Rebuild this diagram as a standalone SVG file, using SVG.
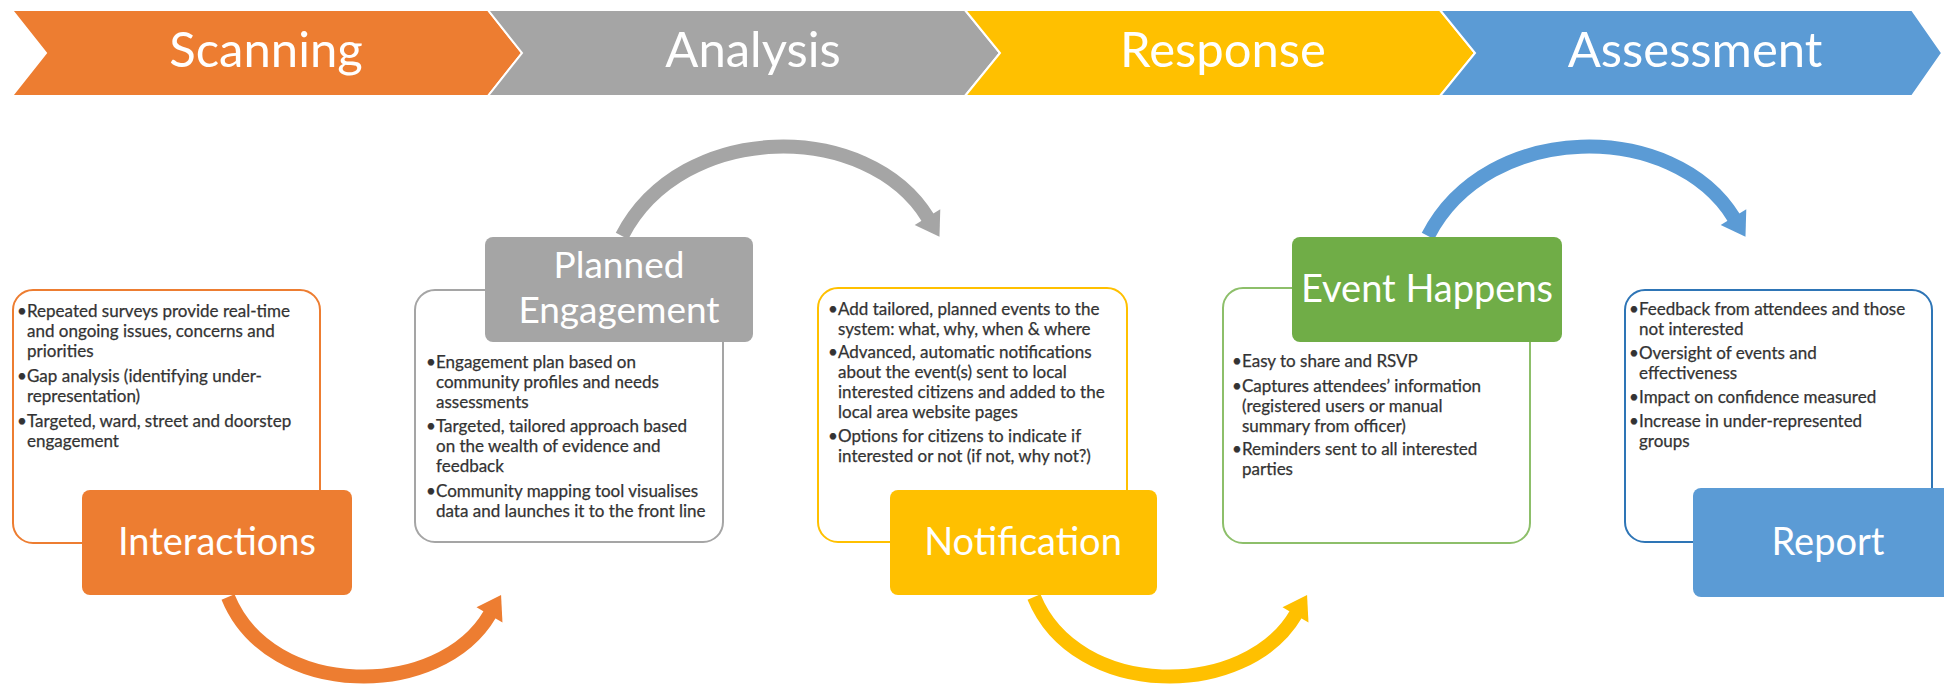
<svg xmlns="http://www.w3.org/2000/svg" width="1944" height="684" viewBox="0 0 1944 684">
<style>
.band{font-family:Lato,"Open Sans",sans-serif;font-size:49px;fill:#FFFFFF;text-anchor:middle}
.title{font-family:Lato,"Open Sans",sans-serif;font-size:38px;fill:#FFFFFF;text-anchor:middle}
.body{font-family:Lato,"Open Sans",sans-serif;font-size:17px;fill:#333333;stroke:#333333;stroke-width:0.25}
.chev{stroke:#FFFFFF;stroke-width:2}
.outline{fill:#FFFFFF;stroke-width:2}
.arc{fill:none;stroke-width:14}
</style>
<defs>
<marker id="hOrange" markerUnits="userSpaceOnUse" markerWidth="26" markerHeight="34" refX="1" refY="16" orient="auto" overflow="visible"><path d="M0,1 L23,16 L0,31 Z" fill="#ED7D31"/></marker>
<marker id="hGray" markerUnits="userSpaceOnUse" markerWidth="26" markerHeight="34" refX="1" refY="16" orient="auto" overflow="visible"><path d="M0,1 L23,16 L0,31 Z" fill="#A5A5A5"/></marker>
<marker id="hYellow" markerUnits="userSpaceOnUse" markerWidth="26" markerHeight="34" refX="1" refY="16" orient="auto" overflow="visible"><path d="M0,1 L23,16 L0,31 Z" fill="#FFC000"/></marker>
<marker id="hBlue" markerUnits="userSpaceOnUse" markerWidth="26" markerHeight="34" refX="1" refY="16" orient="auto" overflow="visible"><path d="M0,1 L23,16 L0,31 Z" fill="#5B9BD5"/></marker>
</defs>
<rect width="1944" height="684" fill="#FFFFFF"/>

<g id="phases">
<g id="phase-scanning"><path class="chev" d="M12,10 L488,10 L522,53 L488,96 L12,96 L46,53 Z" fill="#ED7D31"/><text class="band" x="266" y="67">Scanning</text></g>
<g id="phase-analysis"><path class="chev" d="M488,10 L965,10 L1000,53 L965,96 L488,96 L522,53 Z" fill="#A5A5A5"/><text class="band" x="753" y="67">Analysis</text></g>
<g id="phase-response"><path class="chev" d="M965,10 L1440,10 L1475,53 L1440,96 L965,96 L1000,53 Z" fill="#FFC000"/><text class="band" x="1223" y="67">Response</text></g>
<g id="phase-assessment"><path class="chev" d="M1440,10 L1912,10 L1942,53 L1912,96 L1440,96 L1475,53 Z" fill="#5B9BD5"/><text class="band" x="1695" y="67">Assessment</text></g>
</g>

<g id="connectors">
<path class="arc" d="M228,597 C270,700 440,700 490,614" stroke="#ED7D31" marker-end="url(#hOrange)"/>
<path class="arc" d="M622,236 C682,120 868,120 928,218" stroke="#A5A5A5" marker-end="url(#hGray)"/>
<path class="arc" d="M1034,597 C1076,700 1246,700 1296,614" stroke="#FFC000" marker-end="url(#hYellow)"/>
<path class="arc" d="M1428,236 C1488,120 1674,120 1734,218" stroke="#5B9BD5" marker-end="url(#hBlue)"/>
</g>

<g id="node-interactions">
<rect class="outline" x="13" y="290" width="307" height="253" rx="20" stroke="#ED7D31"/>
<text class="body"><tspan x="17" y="317">•</tspan><tspan x="27" y="317">Repeated surveys provide real-time</tspan><tspan x="27" y="337">and ongoing issues, concerns and</tspan><tspan x="27" y="357">priorities</tspan><tspan x="17" y="382">•</tspan><tspan x="27" y="382">Gap analysis (identifying under-</tspan><tspan x="27" y="402">representation)</tspan><tspan x="17" y="427">•</tspan><tspan x="27" y="427">Targeted, ward, street and doorstep</tspan><tspan x="27" y="447">engagement</tspan></text>
<rect x="82" y="490" width="270" height="105" rx="8" fill="#ED7D31"/>
<text class="title" x="217" y="555">Interactions</text>
</g>

<g id="node-planned-engagement">
<rect class="outline" x="415" y="290" width="308" height="252" rx="20" stroke="#A5A5A5"/>
<rect x="485" y="237" width="268" height="105" rx="8" fill="#A5A5A5"/>
<text class="title" style="font-size:37px"><tspan x="619" y="278">Planned</tspan><tspan x="619" y="323">Engagement</tspan></text>
<text class="body"><tspan x="426" y="368">•</tspan><tspan x="436" y="368">Engagement plan based on</tspan><tspan x="436" y="388">community profiles and needs</tspan><tspan x="436" y="408">assessments</tspan><tspan x="426" y="432">•</tspan><tspan x="436" y="432">Targeted, tailored approach based</tspan><tspan x="436" y="452">on the wealth of evidence and</tspan><tspan x="436" y="472">feedback</tspan><tspan x="426" y="497">•</tspan><tspan x="436" y="497">Community mapping tool visualises</tspan><tspan x="436" y="517">data and launches it to the front line</tspan></text>
</g>

<g id="node-notification">
<rect class="outline" x="818" y="288" width="309" height="254" rx="20" stroke="#FFC000"/>
<text class="body"><tspan x="828" y="315">•</tspan><tspan x="838" y="315">Add tailored, planned events to the</tspan><tspan x="838" y="335">system: what, why, when &amp; where</tspan><tspan x="828" y="358">•</tspan><tspan x="838" y="358">Advanced, automatic notifications</tspan><tspan x="838" y="378">about the event(s) sent to local</tspan><tspan x="838" y="398">interested citizens and added to the</tspan><tspan x="838" y="418">local area website pages</tspan><tspan x="828" y="442">•</tspan><tspan x="838" y="442">Options for citizens to indicate if</tspan><tspan x="838" y="462">interested or not (if not, why not?)</tspan></text>
<rect x="890" y="490" width="267" height="105" rx="8" fill="#FFC000"/>
<text class="title" x="1023" y="555">Notification</text>
</g>

<g id="node-event-happens">
<rect class="outline" x="1223" y="288" width="307" height="255" rx="20" stroke="#8DBF6A"/>
<rect x="1292" y="237" width="270" height="105" rx="8" fill="#70AD47"/>
<text class="title" x="1427" y="302">Event Happens</text>
<text class="body"><tspan x="1232" y="367">•</tspan><tspan x="1242" y="367">Easy to share and RSVP</tspan><tspan x="1232" y="392">•</tspan><tspan x="1242" y="392">Captures attendees’ information</tspan><tspan x="1242" y="412">(registered users or manual</tspan><tspan x="1242" y="432">summary from officer)</tspan><tspan x="1232" y="455">•</tspan><tspan x="1242" y="455">Reminders sent to all interested</tspan><tspan x="1242" y="475">parties</tspan></text>
</g>

<g id="node-report">
<rect class="outline" x="1625" y="290" width="307" height="252" rx="20" stroke="#2E75B6"/>
<text class="body"><tspan x="1629" y="315">•</tspan><tspan x="1639" y="315">Feedback from attendees and those</tspan><tspan x="1639" y="335">not interested</tspan><tspan x="1629" y="359">•</tspan><tspan x="1639" y="359">Oversight of events and</tspan><tspan x="1639" y="379">effectiveness</tspan><tspan x="1629" y="403">•</tspan><tspan x="1639" y="403">Impact on confidence measured</tspan><tspan x="1629" y="427">•</tspan><tspan x="1639" y="427">Increase in under-represented</tspan><tspan x="1639" y="447">groups</tspan></text>
<rect x="1693" y="488" width="270" height="109" rx="8" fill="#5B9BD5"/>
<text class="title" x="1828" y="555">Report</text>
</g>
</svg>
